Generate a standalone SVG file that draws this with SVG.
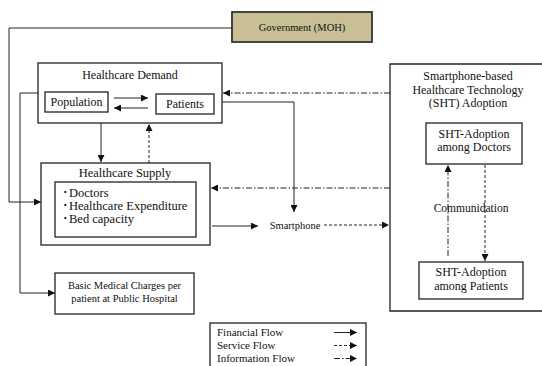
<svg xmlns="http://www.w3.org/2000/svg" width="542" height="366" viewBox="0 0 542 366">
<style>
.box{fill:#fff;stroke:#222;stroke-width:1.3}
.t{font-family:"Liberation Serif","DejaVu Serif",serif;font-size:12px;fill:#111;text-anchor:middle}
.ts{font-family:"Liberation Serif","DejaVu Serif",serif;font-size:10.5px;fill:#111;text-anchor:middle}
.tl{font-family:"Liberation Serif","DejaVu Serif",serif;font-size:12.5px;fill:#111}
.fin{fill:none;stroke:#222;stroke-width:1;marker-end:url(#ah)}
.svc{fill:none;stroke:#222;stroke-width:1;stroke-dasharray:3,2;marker-end:url(#ah)}
.inf{fill:none;stroke:#222;stroke-width:1;stroke-dasharray:6,2,1.5,2;marker-end:url(#ah)}
</style>
<defs>
<marker id="ah" viewBox="0 0 8 8" refX="8" refY="4" markerWidth="7" markerHeight="7" markerUnits="userSpaceOnUse" orient="auto">
<path d="M0,0 L8,4 L0,8 Z" fill="#111"/>
</marker>
</defs>
<rect width="542" height="366" fill="#fff"/>

<g id="government">
<rect x="232" y="12" width="140" height="30" fill="#c8bf95" stroke="#333" stroke-width="1.8"/>
<text class="t" x="302" y="31" style="font-size:10.5px">Government (MOH)</text>
</g>

<g id="healthcare-demand">
<rect class="box" x="38" y="63" width="184" height="60"/>
<text class="t" x="130" y="79">Healthcare Demand</text>
</g>
<g id="population">
<rect class="box" x="45" y="92" width="63" height="20"/>
<text class="t" x="76.5" y="106">Population</text>
</g>
<g id="patients">
<rect class="box" x="156" y="94" width="58" height="20"/>
<text class="t" x="185" y="108">Patients</text>
</g>

<g id="healthcare-supply">
<rect class="box" x="41" y="163" width="169" height="82"/>
<text class="t" x="125" y="177" style="font-size:12.5px">Healthcare Supply</text>
<rect class="box" x="55" y="182" width="141" height="55"/>
<text class="tl" x="62" y="197">･Doctors</text>
<text class="tl" x="62" y="210">･Healthcare Expenditure</text>
<text class="tl" x="62" y="223">･Bed capacity</text>
</g>

<g id="basic-medical-charges">
<rect class="box" x="55" y="273" width="139" height="41"/>
<text class="ts" x="124.5" y="289">Basic Medical Charges per</text>
<text class="ts" x="124.5" y="302">patient at Public Hospital</text>
</g>

<g id="smartphone">
<text class="ts" x="295" y="229">Smartphone</text>
</g>

<g id="sht-adoption">
<path d="M545,64 H390 V311 H545" fill="none" stroke="#222" stroke-width="1.3"/>
<text class="t" x="468" y="80">Smartphone-based</text>
<text class="t" x="468" y="94">Healthcare Technology</text>
<text class="t" x="468" y="107">(SHT) Adoption</text>
</g>
<g id="sht-doctors">
<rect class="box" x="426" y="123" width="96" height="41"/>
<text class="t" x="474" y="138">SHT-Adoption</text>
<text class="t" x="474" y="151">among Doctors</text>
</g>
<g id="sht-patients">
<rect class="box" x="419" y="262" width="104" height="37"/>
<text class="t" x="471" y="276">SHT-Adoption</text>
<text class="t" x="471" y="290">among Patients</text>
</g>
<g id="communication">
<text class="t" x="471" y="212" style="font-size:11.5px">Communidation</text>
</g>

<g id="legend">
<rect class="box" x="210" y="323" width="156" height="50"/>
<text class="tl" x="217" y="336" style="font-size:11px">Financial Flow</text>
<text class="tl" x="217" y="349" style="font-size:11px">Service Flow</text>
<text class="tl" x="217" y="362" style="font-size:11px">Information Flow</text>
<line class="fin" x1="334" y1="332.5" x2="357" y2="332.5"/>
<line class="svc" x1="334" y1="345.5" x2="357" y2="345.5"/>
<line class="inf" x1="334" y1="358.5" x2="357" y2="358.5"/>
</g>

<g id="connectors">
<path class="fin" d="M232,28 H9 V202 H41"/>
<path class="fin" d="M38,93 H20 V293 H55"/>
<line class="fin" x1="114" y1="98" x2="148" y2="98"/>
<line class="fin" x1="148" y1="108" x2="114" y2="108"/>
<line class="fin" x1="101" y1="123" x2="101" y2="162"/>
<line class="svc" x1="149" y1="163" x2="149" y2="124"/>
<path class="fin" d="M222,102 H294 V212"/>
<line class="fin" x1="212" y1="226" x2="258" y2="226"/>
<line class="svc" x1="324" y1="225" x2="389" y2="225"/>
<line class="inf" x1="390" y1="93" x2="223" y2="93"/>
<line class="inf" x1="390" y1="188" x2="211" y2="188"/>
<line class="inf" x1="448" y1="256" x2="448" y2="165"/>
<line class="svc" x1="485" y1="165" x2="485" y2="261"/>
</g>
</svg>
